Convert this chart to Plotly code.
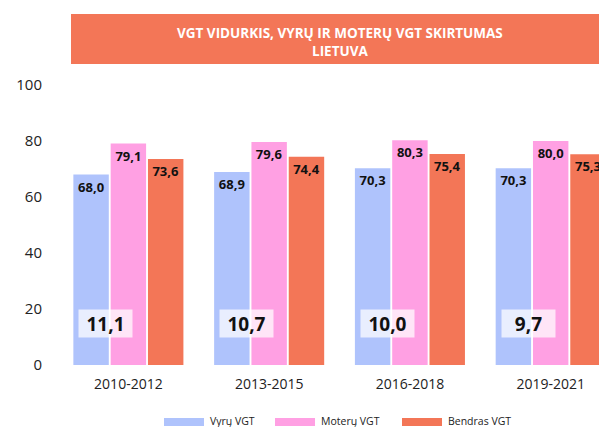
import plotly.graph_objects as go

periods = ["2010-2012", "2013-2015", "2016-2018", "2019-2021"]
men = [68.0, 68.9, 70.3, 70.3]
women = [79.1, 79.6, 80.3, 80.0]
total = [73.6, 74.4, 75.4, 75.3]
gap = [11.1, 10.7, 10.0, 9.7]
series_names = ["Vyrų VGT", "Moterų VGT", "Bendras VGT"]
colors = ["#AFC3FC", "#FFA0E3", "#F37657"]
yticks = [0, 20, 40, 60, 80, 100]

FONT = "Open Sans, Lato, sans-serif"

def fmt(v):
    return f"{v:.1f}".replace(".", ",")

# page body has an 8px margin; compensate so the figure lands where the reference is
OFF = 8
W, H = 607 - OFF, 427 - OFF
ml, mr, mt = 58 - OFF, 0, 85 - OFF
mb = H - (365 - OFF)
pw, ph = W - ml - mr, H - mt - mb

def px_to_paper_x(px):
    return (px - OFF - ml) / pw

def py_to_paper_y(py):
    return (H - mb - (py - OFF)) / ph

fig = go.Figure()
for name, vals, col in zip(series_names, [men, women, total], colors):
    fig.add_trace(go.Bar(
        x=periods, y=vals, name=name,
        marker=dict(color=col, line=dict(width=0)),
        text=[fmt(v) for v in vals],
        textposition="inside", insidetextanchor="end",
        textfont=dict(family=FONT, size=13, color="#111111", weight="bold"),
        textangle=0,
        showlegend=False,
    ))

annotations = []
for i, g in enumerate(gap):
    annotations.append(dict(
        x=i - 0.16, y=14.8, xref="x", yref="y",
        text=f"<b>{fmt(g)}</b>", showarrow=False,
        font=dict(family=FONT, size=19, color="#111111"),
        bgcolor="rgba(255,255,255,0.72)", width=51, height=25,
        align="center", valign="middle",
    ))

annotations.append(dict(
    x=px_to_paper_x(340), y=py_to_paper_y(41.5), xref="paper", yref="paper",
    showarrow=False,
    text="<b>VGT VIDURKIS, VYRŲ IR MOTERŲ VGT SKIRTUMAS<br>LIETUVA</b>",
    font=dict(family=FONT, size=13.5, color="white"),
    xanchor="center", yanchor="middle",
))

shapes = []
shapes.append(dict(type="rect", xref="paper", yref="paper",
                   x0=px_to_paper_x(71), x1=px_to_paper_x(607),
                   y0=py_to_paper_y(64), y1=py_to_paper_y(14),
                   fillcolor="#F37657", line=dict(width=0), layer="below"))

leg_x = [164, 275, 402]
for lx, name, col in zip(leg_x, series_names, colors):
    shapes.append(dict(type="rect", xref="paper", yref="paper",
                       x0=px_to_paper_x(lx), x1=px_to_paper_x(lx + 40),
                       y0=py_to_paper_y(426), y1=py_to_paper_y(418),
                       fillcolor=col, line=dict(width=0)))
    annotations.append(dict(
        x=px_to_paper_x(lx + 44), y=py_to_paper_y(421), xref="paper", yref="paper",
        text=name, showarrow=False, xanchor="left", yanchor="middle",
        font=dict(family=FONT, size=10.5, color="#222222"),
    ))

fig.update_layout(
    width=W, height=H,
    margin=dict(l=ml, r=mr, t=mt, b=mb, autoexpand=False),
    plot_bgcolor="white", paper_bgcolor="white",
    barmode="group", bargap=0.205, bargroupgap=0.05,
    xaxis=dict(range=[-0.5, 3.4], showgrid=False, showline=False, zeroline=False,
               tickfont=dict(family=FONT, size=14, color="#222222"),
               ticks="outside", ticklen=6, tickcolor="rgba(0,0,0,0)"),
    yaxis=dict(range=[0, 100], tickvals=yticks, showgrid=False, showline=False,
               zeroline=False,
               tickfont=dict(family=FONT, size=15, color="#222222"),
               ticks="outside", ticklen=12, tickcolor="rgba(0,0,0,0)"),
    shapes=shapes, annotations=annotations,
)

fig.write_html("out.html")
